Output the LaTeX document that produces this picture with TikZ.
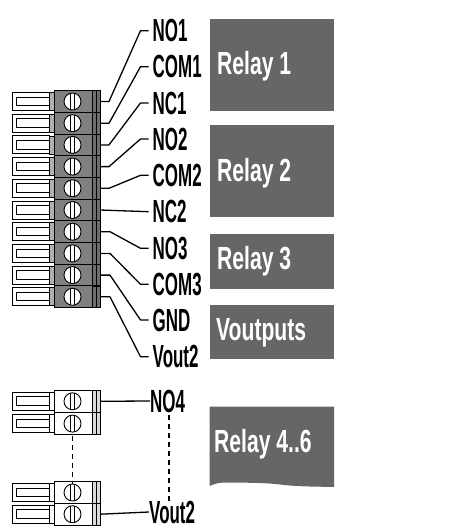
\documentclass[tikz,border=0pt]{standalone}
\usepackage{fontspec}
\usetikzlibrary{calc}
\newfontfamily\labfont[FakeStretch=0.53]{Liberation Sans Bold}
\newfontfamily\boxfont[FakeStretch=0.66]{Liberation Sans Bold}
\definecolor{termgrey}{HTML}{808080}
\definecolor{tabgrey}{HTML}{B0B0B0}
\definecolor{boxgrey}{HTML}{666666}
\tikzset{
  wire/.style={draw=black,line width=1.3pt,line join=round},
  pinline/.style={draw=black,line width=1pt},
  thinline/.style={draw=black,line width=0.8pt},
  screw/.style={circle,draw=black,fill=white,line width=0.9pt,minimum size=17pt,inner sep=0pt},
  lbl/.style={anchor=west,inner ysep=1pt,inner xsep=4pt,font=\labfont\fontsize{32}{34}\selectfont},
  lowlbl/.style={anchor=west,inner sep=0pt,font=\labfont\fontsize{32}{34}\selectfont},
  boxlbl/.style={anchor=base west,inner sep=0pt,text=white,font=\boxfont\fontsize{32}{34}\selectfont},
}
% one row of a connector: plug, tab, body, screw and pin
\newcommand{\plugrow}[4]{
  \draw[pinline,fill=white] (12.5,#2-9) rectangle (49,#2+9);
  \draw[thinline] (16.5,#2-4.5) rectangle (49,#2+4);
  \draw[thinline,fill=#4] (49,#2-9) rectangle (54,#2+9);
  \draw[pinline,fill=#3] (54,#2-10.85) rectangle (100,#2+10.85);
  \draw[thinline,fill=#3!85!black] (92,#2-10.85) rectangle (100,#2+10.85);
  \draw[thinline] (96,#2-10.85) -- (96,#2+10.85);
  \draw[pinline] (54,#2-10.85) rectangle (100,#2+10.85);
  \node[screw] (screw#1) at (72.5,#2) {};
  \draw[thinline] (70.5,#2-8.3) -- (70.5,#2+8.3) (74.5,#2-8.3) -- (74.5,#2+8.3);
  \coordinate (pin#1) at (100,#2);
}

\begin{document}
\begin{tikzpicture}[x=1pt,y=-1pt]
\useasboundingbox (0,0) rectangle (462,532);

% upper connector
\foreach \i in {1,...,10}{
  \pgfmathsetmacro{\rowy}{101.5+21.7*(\i-1)}
  \plugrow{\i}{\rowy}{termgrey}{tabgrey}
}

% wire labels
\foreach \name/\y [count=\i] in {NO1/30.7,COM1/66.7,NC1/103,NO2/139,COM2/175.3,NC2/211.7,NO3/248.3,COM3/284.3,GND/320,Vout2/356.7}{
  \node[lbl] (lbl\i) at (148.5,\y) {\name};
}
\foreach \i in {1,...,5}
  \draw[wire] (pin\i) -- ++(9,0) -- ($(lbl\i.west)+(-8,0)$) -- (lbl\i.west);
\draw[wire] (pin6) -- (lbl6.west);
\foreach \i in {7,8,9,10}
  \draw[wire] (pin\i) -- ++(10,0) -- ($(lbl\i.west)+(-8,0)$) -- (lbl\i.west);

% lower connector
\plugrow{a}{401.3}{white}{white}
\plugrow{b}{423.6}{white}{white}
\plugrow{c}{492.5}{white}{white}
\plugrow{d}{514.2}{white}{white}
\node[lowlbl] (lblno) at (150,401) {NO4};
\node[lowlbl] (lblvo) at (149,512) {Vout2};
\coordinate (dashtop) at (169,415);
\coordinate (dashbot) at (169,503);
\draw[wire] (pina) -- (lblno.west);
\draw[wire] (pind) -- (lblvo.west);
\draw[wire,dash pattern=on 5pt off 4pt] (screwb.south) ++(0,3) -- (screwc.north);
\draw[wire,dash pattern=on 5pt off 4pt] (dashtop) -- (dashbot);

% grey boxes
\fill[boxgrey] (210,18.7) rectangle (334,110.7);
\fill[boxgrey] (210,124.7) rectangle (334,216.7);
\fill[boxgrey] (210,233.7) rectangle (334,288.7);
\fill[boxgrey] (210,304.7) rectangle (334,359.3);
\fill[boxgrey] (209.5,406.7) -- (334,406.7) -- (334,487) .. controls (310,486.5) and (295,486.5) .. (280,484.5) .. controls (265,482.5) and (235,482.5) .. (222,482.7) .. controls (216,483) and (212,485) .. (209.5,486) -- cycle;
\node[boxlbl] (rel1) at (217,75) {Relay 1};
\node[boxlbl] (rel2) at (217,181) {Relay 2};
\node[boxlbl] (rel3) at (217,269) {Relay 3};
\node[boxlbl] (volt) at (216,340) {Voutputs};
\node[boxlbl] (rel4) at (214,452.7) {Relay 4..6};
\end{tikzpicture}
\end{document}
